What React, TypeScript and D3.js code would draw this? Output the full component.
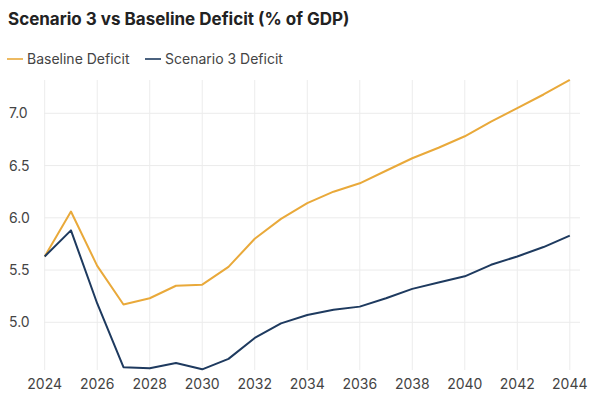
import React from "react";
import * as d3 from "d3";

const years = [2024, 2025, 2026, 2027, 2028, 2029, 2030, 2031, 2032, 2033, 2034, 2035, 2036, 2037, 2038, 2039, 2040, 2041, 2042, 2043, 2044];
const baselineDeficit = [5.63, 6.06, 5.54, 5.17, 5.23, 5.35, 5.36, 5.53, 5.80, 5.99, 6.14, 6.25, 6.33, 6.45, 6.57, 6.67, 6.78, 6.92, 7.05, 7.18, 7.32];
const scenario3Deficit = [5.63, 5.88, 5.18, 4.57, 4.56, 4.61, 4.55, 4.65, 4.85, 4.99, 5.07, 5.12, 5.15, 5.23, 5.32, 5.38, 5.44, 5.55, 5.63, 5.72, 5.83];
const yTicks = [5.0, 5.5, 6.0, 6.5, 7.0];
const xTicks = [2024, 2026, 2028, 2030, 2032, 2034, 2036, 2038, 2040, 2042, 2044];
const seriesNames = ["Baseline Deficit", "Scenario 3 Deficit"];
const title = "Scenario 3 vs Baseline Deficit (% of GDP)";

const COLORS = ["#E9A93A", "#1E3A5F"];
const FONT = "Inter, 'Noto Sans', sans-serif";

export default function App() {
  const W = 594, H = 397;
  const x = d3.scaleLinear().domain([2024, 2044]).range([44.7, 569.8]);
  const y = d3.scaleLinear().domain([5.0, 7.0]).range([322.3, 113.3]);
  const line = d3.line<number>().x((_, i) => x(years[i])).y((d) => y(d));
  const series = [baselineDeficit, scenario3Deficit];
  const plotTop = 80, plotBottom = 370, plotLeft = 44, plotRight = 580;

  return (
    <svg width={W} height={H} style={{ position: "absolute", left: 0, top: 0, background: "#fff" }} fontFamily={FONT}>
      <rect width={W} height={H} fill="#fff" />
      <text x={8} y={24.5} fontSize={17} fontWeight={700} fill="#222">{title}</text>
      {/* legend */}
      {seriesNames.map((n, i) => {
        const lx = i === 0 ? 7 : 145;
        return (
          <g key={n}>
            <line x1={lx} x2={lx + 16} y1={59} y2={59} stroke={COLORS[i]} strokeWidth={1.6} />
            <text x={lx + 20} y={64} fontSize={14} fill="#444">{n}</text>
          </g>
        );
      })}
      {/* grid */}
      {yTicks.map((t) => (
        <line key={"gy" + t} x1={plotLeft} x2={plotRight} y1={y(t)} y2={y(t)} stroke="#ececec" strokeWidth={1} />
      ))}
      {xTicks.map((t) => (
        <line key={"gx" + t} x1={x(t)} x2={x(t)} y1={plotTop} y2={plotBottom} stroke="#ececec" strokeWidth={1} />
      ))}
      {/* y labels */}
      {yTicks.map((t) => (
        <text key={"ly" + t} x={9} y={y(t) + 5} fontSize={14} fill="#444">{d3.format(".1f")(t)}</text>
      ))}
      {/* x labels */}
      {xTicks.map((t) => (
        <text key={"lx" + t} x={x(t)} y={388.5} fontSize={14} fill="#444" textAnchor="middle">{t}</text>
      ))}
      {/* lines */}
      {series.map((s, i) => (
        <path key={i} d={line(s) || ""} fill="none" stroke={COLORS[i]} strokeWidth={2} strokeLinejoin="round" />
      ))}
    </svg>
  );
}
